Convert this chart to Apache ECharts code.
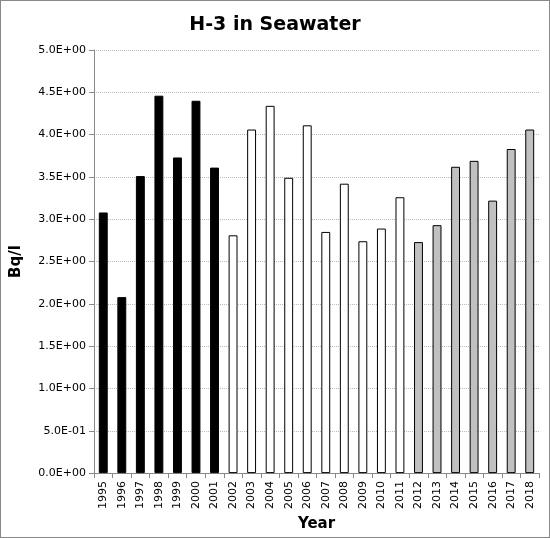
<!DOCTYPE html>
<html>
<head>
<meta charset="UTF-8">
<script src="https://cdn.jsdelivr.net/npm/echarts@6/dist/echarts.min.js"></script>
<style>
  html, body { margin: 0; padding: 0; background: #fff; }
  #chart { width: 548px; height: 536px; border: 1px solid #888; }
</style>
</head>
<body>
<div id="chart"></div>
<script>
var years = ['1995','1996','1997','1998','1999','2000','2001','2002','2003','2004','2005','2006',
  '2007','2008','2009','2010','2011','2012','2013','2014','2015','2016','2017','2018'];
var values = [3.08, 2.08, 3.51, 4.46, 3.73, 4.40, 3.61, 2.81, 4.06, 4.34, 3.49, 4.11,
  2.85, 3.42, 2.74, 2.89, 3.26, 2.73, 2.93, 3.62, 3.69, 3.22, 3.83, 4.06];

function barColor(y) {
  var n = +y;
  if (n <= 2001) return '#000';
  if (n <= 2011) return '#fff';
  return '#c0c0c0';
}

function sci(v) {
  if (v === 0) return '0.0E+00';
  var e = Math.floor(Math.log10(v) + 1e-9);
  var m = v / Math.pow(10, e);
  var es = (e < 0 ? '-' : '+') + (Math.abs(e) < 10 ? '0' : '') + Math.abs(e);
  return m.toFixed(1) + 'E' + es;
}

var chart = echarts.init(document.getElementById('chart'));
chart.setOption({
  animation: false,
  title: {
    text: 'H-3 in Seawater', left: 'center', top: 10,
    textStyle: { fontFamily: 'DejaVu Sans', fontSize: 19, fontWeight: 'bold', color: '#000' }
  },
  grid: { left: 92, right: 10, top: 49, bottom: 60 },
  xAxis: {
    type: 'category', data: years,
    name: 'Year', nameLocation: 'middle', nameGap: 43,
    nameTextStyle: { fontFamily: 'DejaVu Sans', fontSize: 15, fontWeight: 'bold', color: '#000' },
    axisLine: { lineStyle: { color: '#888' } },
    axisTick: { show: true, alignWithLabel: false, lineStyle: { color: '#888' } },
    axisLabel: { rotate: 90, interval: 0, fontFamily: 'DejaVu Sans', fontSize: 11, color: '#000' }
  },
  yAxis: {
    type: 'value', min: 0, max: 5, interval: 0.5,
    name: 'Bq/l', nameLocation: 'middle', nameGap: 70,
    nameTextStyle: { fontFamily: 'DejaVu Sans', fontSize: 15, fontWeight: 'bold', color: '#000' },
    axisLine: { show: true, lineStyle: { color: '#888' } },
    axisTick: { show: true, lineStyle: { color: '#888' } },
    axisLabel: { formatter: sci, fontFamily: 'DejaVu Sans', fontSize: 11, color: '#000' },
    splitLine: { lineStyle: { color: '#bbb', type: 'dotted' } }
  },
  series: [{
    type: 'bar', barWidth: '48%',
    data: values.map(function (v, i) {
      return { value: v, itemStyle: { color: barColor(years[i]), borderColor: '#000', borderWidth: 1 } };
    })
  }]
});
</script>
</body>
</html>
